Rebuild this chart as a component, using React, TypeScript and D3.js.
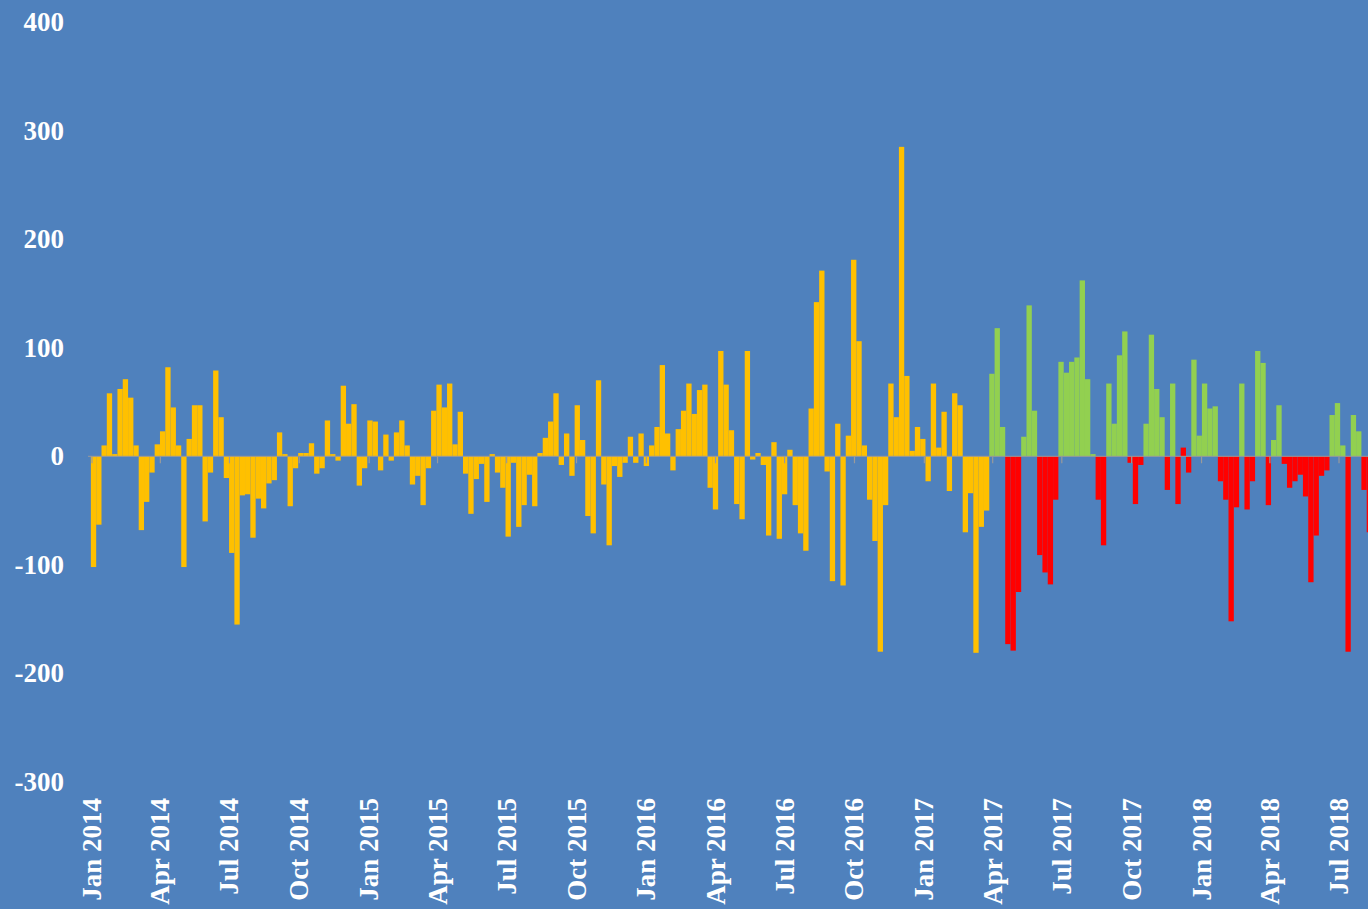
import React from 'react';
import * as d3 from 'd3';

const W = 1368;
const H = 909;

// Weekly observations (Fridays) starting 3 Jan 2014
const firstWeek = new Date(2014, 0, 3);

// Jan 2014 – Mar 2017 (amber series)
const amberValues: number[] = [
  -102, -63, 10, 58, 2, 62, 71, 54, 10, -68, -42, -15, 11,
  23, 82, 45, 10, -102, 16, 47, 47, -60, -15, 79, 36, -20,
  -89, -155, -36, -35, -75, -39, -48, -25, -22, 22, 2, -46, -11,
  3, 3, 12, -16, -11, 33, 2, -4, 65, 30, 48, -27, -11,
  33, 32, -13, 20, -4, 22, 33, 10, -26, -18, -45, -11, 42,
  66, 45, 67, 11, 41, -16, -53, -21, -7, -42, 2, -15, -29,
  -74, -6, -65, -45, -17, -46, 3, 17, 32, 58, -8, 21, -18,
  47, 15, -55, -71, 70, -26, -82, -9, -19, -6, 18, -6, 21,
  -9, 10, 27, 84, 21, -13, 25, 42, 67, 39, 61, 66, -29,
  -49, 97, 66, 24, -44, -58, 97, -3, 3, -8, -73, 13, -76,
  -35, 6, -45, -71, -87, 44, 142, 171, -14, -115, 30, -119, 19,
  181, 106, 10, -40, -78, -180, -45, 67, 36, 285, 74, 5, 27,
  16, -23, 67, 8, 41, -32, 58, 47, -70, -34, -181, -65, -50,
];

// Apr 2017 onward: value and series (G = gain, R = loss)
const laterValues: number[] = [
  76, 118, 27, -173, -179, -125, 18, 139, 42, -91, -107, -118, -40,
  87, 77, 87, 91, 162, 71, 2, -40, -82, 67, 30, 93, 115,
  -6, -44, -8, 30, 112, 62, 36, -31, 67, -44, 8, -15, 89,
  19, 67, 44, 46, -23, -40, -152, -47, 67, -49, -23, 97, 86,
  -45, 15, 47, -7, -29, -23, -17, -37, -116, -73, -18, -13, 38,
  49, 10, -180, 38, 23, -31, -70,
];
const laterSeries: string[] = [
  'G', 'G', 'G', 'R', 'R', 'R', 'G', 'G', 'G', 'R', 'R', 'R', 'R',
  'G', 'G', 'G', 'G', 'G', 'G', 'G', 'R', 'R', 'G', 'G', 'G', 'G',
  'R', 'R', 'R', 'G', 'G', 'G', 'G', 'R', 'G', 'R', 'R', 'R', 'G',
  'G', 'G', 'G', 'G', 'R', 'R', 'R', 'R', 'G', 'R', 'R', 'G', 'G',
  'R', 'G', 'G', 'R', 'R', 'R', 'R', 'R', 'R', 'R', 'R', 'R', 'G',
  'G', 'G', 'R', 'G', 'G', 'R', 'R',
];

const yTicks: number[] = [400, 300, 200, 100, 0, -100, -200, -300];
const xTickLabels: string[] = [
  'Jan 2014', 'Apr 2014', 'Jul 2014', 'Oct 2014',
  'Jan 2015', 'Apr 2015', 'Jul 2015', 'Oct 2015',
  'Jan 2016', 'Apr 2016', 'Jul 2016', 'Oct 2016',
  'Jan 2017', 'Apr 2017', 'Jul 2017', 'Oct 2017',
  'Jan 2018', 'Apr 2018', 'Jul 2018',
];

const COLORS: Record<string, string> = {
  A: '#FFC000',
  G: '#92D050',
  R: '#FF0000',
};

export default function App() {
  const x = d3
    .scaleTime()
    .domain([new Date(2014, 0, 1), new Date(2018, 6, 1)])
    .range([92, 1339]);
  const y = d3.scaleLinear().domain([-300, 400]).range([782, 22]);

  const bars = [
    ...amberValues.map((v) => ({ v, s: 'A' })),
    ...laterValues.map((v, i) => ({ v, s: laterSeries[i] })),
  ].map((d, i) => ({ ...d, date: d3.timeDay.offset(firstWeek, 7 * i) }));

  const bw = x(d3.timeDay.offset(firstWeek, 7)) - x(firstWeek);
  const y0 = y(0);

  const tickDates = xTickLabels.map((lab) => {
    const dt = d3.timeParse('%b %Y')(lab) as Date;
    return { lab, dt };
  });

  const font = "'Liberation Serif', 'Times New Roman', serif";

  return (
    <svg
      width={W}
      height={H}
      style={{ position: 'fixed', left: 0, top: 0, display: 'block' }}
    >
      <rect x={0} y={0} width={W} height={H} fill="#4F81BD" />
      <g>
        {bars.map((d, i) => {
          const top = y(Math.max(0, d.v));
          const bot = y(Math.min(0, d.v));
          return (
            <rect
              key={i}
              x={x(d.date) - bw / 2}
              y={top}
              width={bw}
              height={Math.max(0.5, bot - top)}
              fill={COLORS[d.s]}
            />
          );
        })}
      </g>
      <line x1={88} x2={W} y1={y0} y2={y0} stroke="#9a9a9a" strokeWidth={1.2} opacity={0.8} />
      {tickDates.map((t) => (
        <line
          key={'t' + t.lab}
          x1={x(t.dt)}
          x2={x(t.dt)}
          y1={y0}
          y2={y0 + 7}
          stroke="#9a9a9a"
          strokeWidth={1.2}
        />
      ))}
      {yTicks.map((t) => (
        <text
          key={'y' + t}
          x={64}
          y={y(t)}
          textAnchor="end"
          dominantBaseline="central"
          fill="#ffffff"
          fontFamily={font}
          fontWeight="bold"
          fontSize={27}
        >
          {t}
        </text>
      ))}
      {tickDates.map((t) => (
        <text
          key={'x' + t.lab}
          transform={`translate(${x(t.dt)},798) rotate(-90)`}
          textAnchor="end"
          dominantBaseline="central"
          fill="#ffffff"
          fontFamily={font}
          fontWeight="bold"
          fontSize={27}
        >
          {t.lab}
        </text>
      ))}
    </svg>
  );
}
